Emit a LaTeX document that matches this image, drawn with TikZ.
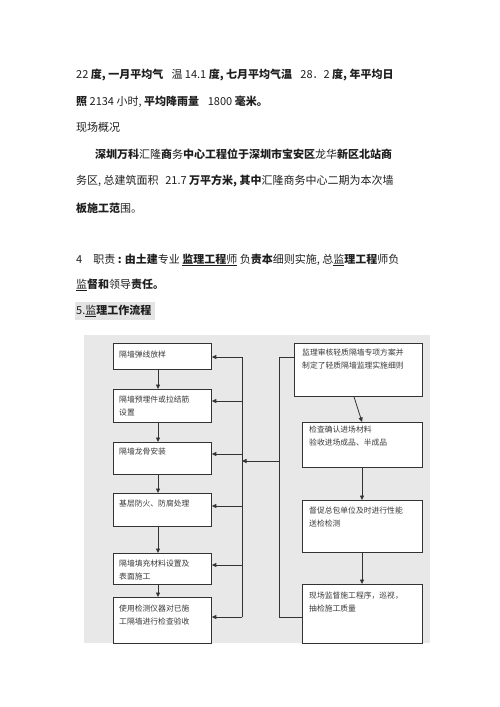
\documentclass[tikz,border=0pt]{standalone}
\usepackage{fontspec}
\setmainfont{Noto Sans CJK SC}
\usetikzlibrary{arrows.meta}
\definecolor{bggray}{HTML}{E8E8E8}
\definecolor{hlgray}{HTML}{E4E4E4}
\definecolor{linec}{HTML}{333333}
\definecolor{txt}{HTML}{1E1E1E}
\definecolor{boxtxt}{HTML}{3A3A3A}
\begin{document}
\begin{tikzpicture}[x=1pt,y=-1pt,
  para/.style={anchor=west,inner sep=0pt,text=txt,font=\fontsize{11}{13}\selectfont},
  box/.style={draw=linec,fill=white,line width=0.8pt,anchor=north west,inner sep=0pt},
  btext/.style={anchor=north west,inner sep=0pt,align=left,text=boxtxt,font=\fontsize{7.8}{13}\selectfont},
  conn/.style={draw=linec,line width=0.8pt},
  arr/.style={conn,-{Triangle[length=4.5pt,width=4pt]}}]
\useasboundingbox (0,0) rectangle (500,707);
% header text
\node[para] (t1) at (76,75) {22 \textbf{度, 一月平均气}\hspace{0.75em}温 14.1 \textbf{度, 七月平均气温}\hspace{0.75em}28．2 \textbf{度, 年平均日}};
\node[para] (t2) at (76,102) {\textbf{照} 2134 小时, \textbf{平均降雨量}\hspace{0.8em}1800 \textbf{毫米。}};
\node[para] (t3) at (76,127) {现场概况};
\node[para] (t4) at (95,154) {\textbf{深圳万科}汇隆\textbf{商}务\textbf{中心工程位于深圳市宝安区}龙华\textbf{新区北站商}};
\node[para] (t5) at (76,181) {务区, 总建筑面积\hspace{0.6em}21.7 \textbf{万平方米, 其中}汇隆商务中心二期为本次墙};
\node[para] (t6) at (76,208) {\textbf{板施工范}围。};
\node[para] (t7) at (76,260) {4\quad 职责 \textbf{: 由土建}专业 \underline{\textbf{监理工程}师} 负\textbf{责本}细则实施, 总\underline{监}\textbf{理工程}师负};
\node[para] (t8) at (76,285) {\underline{监}\textbf{督和}领导\textbf{责任。}};
\fill[hlgray] (75,302) rectangle (155,320);
\node[para] (t9) at (76,311) {5.\underline{监}\textbf{理工作流程}};
% background
\fill[bggray] (84,335) rectangle (430,643);
% left boxes
\node[box,minimum width=98pt,minimum height=26pt] (b1) at (113,343) {};
\node[box,minimum width=98pt,minimum height=33pt] (b2) at (113,389) {};
\node[box,minimum width=98pt,minimum height=32pt] (b3) at (113,442) {};
\node[box,minimum width=98pt,minimum height=33pt] (b4) at (113,493) {};
\node[box,minimum width=98pt,minimum height=31pt] (b5) at (113,553) {};
\node[box,minimum width=98pt,minimum height=46pt] (b6) at (113,597) {};
\node[btext] (b1t) at (119,351) {隔墙弹线放样};
\node[btext] (b2t) at (119,396) {隔墙预埋件或拉结筋\\设置};
\node[btext] (b3t) at (119,448) {隔墙龙骨安装};
\node[btext] (b4t) at (119,500) {基层防火、防腐处理};
\node[btext] (b5t) at (119,560) {隔墙填充材料设置及\\表面施工};
\node[btext] (b6t) at (119,605) {使用检测仪器对已施\\工隔墙进行检查验收};
% right boxes
\node[box,minimum width=128pt,minimum height=53pt] (r1) at (294,343) {};
\node[box,minimum width=120pt,minimum height=45pt] (r2) at (302,422) {};
\node[box,minimum width=120pt,minimum height=52pt] (r3) at (302,500) {};
\node[box,minimum width=120pt,minimum height=59pt] (r4) at (302,584) {};
\node[btext] (r1t) at (302,349) {监理审核轻质隔墙专项方案并\\制定了轻质隔墙监理实施细则};
\node[btext] (r2t) at (309,426) {检查确认进场材料\\验收进场成品、半成品};
\node[btext] (r3t) at (309,507) {督促总包单位及时进行性能\\送检检测};
\node[btext] (r4t) at (309,592) {现场监督施工程序，巡视，\\抽检施工质量};
% left chain arrows
\foreach \a/\b in {b1/b2,b2/b3,b3/b4,b4/b5,b5/b6}
  \draw[arr] ([xshift=45pt]\a.south west) -- ([xshift=45pt]\b.north west);
% right chain arrows
\foreach \a/\b in {r1/r2,r2/r3,r3/r4}
  \draw[arr] ([xshift=60pt]\a.south west) -- ([xshift=60pt]\b.north west);
% bus
\coordinate (j1) at (242,357);
\coordinate (j2) at (242,401);
\coordinate (j3) at (242,454);
\coordinate (j4) at (242,506);
\coordinate (j5) at (242,565);
\coordinate (j6) at (242,617);
\draw[conn] (j1) -- (j6);
\foreach \j/\b in {j1/b1,j2/b2,j3/b3,j4/b4,j5/b5,j6/b6}
  \draw[arr] (\j) -- (\j -| \b.east);
% right feed
\coordinate (rc1) at (279,357);
\coordinate (rc2) at (279,617);
\coordinate (rm) at (279,461);
\coordinate (bm) at (242,461);
\draw[conn] (rc1 -| r1.west) -- (rc1) -- (rc2) -- (rc2 -| r4.west);
\draw[arr] (rm) -- (bm);
\end{tikzpicture}
\end{document}
